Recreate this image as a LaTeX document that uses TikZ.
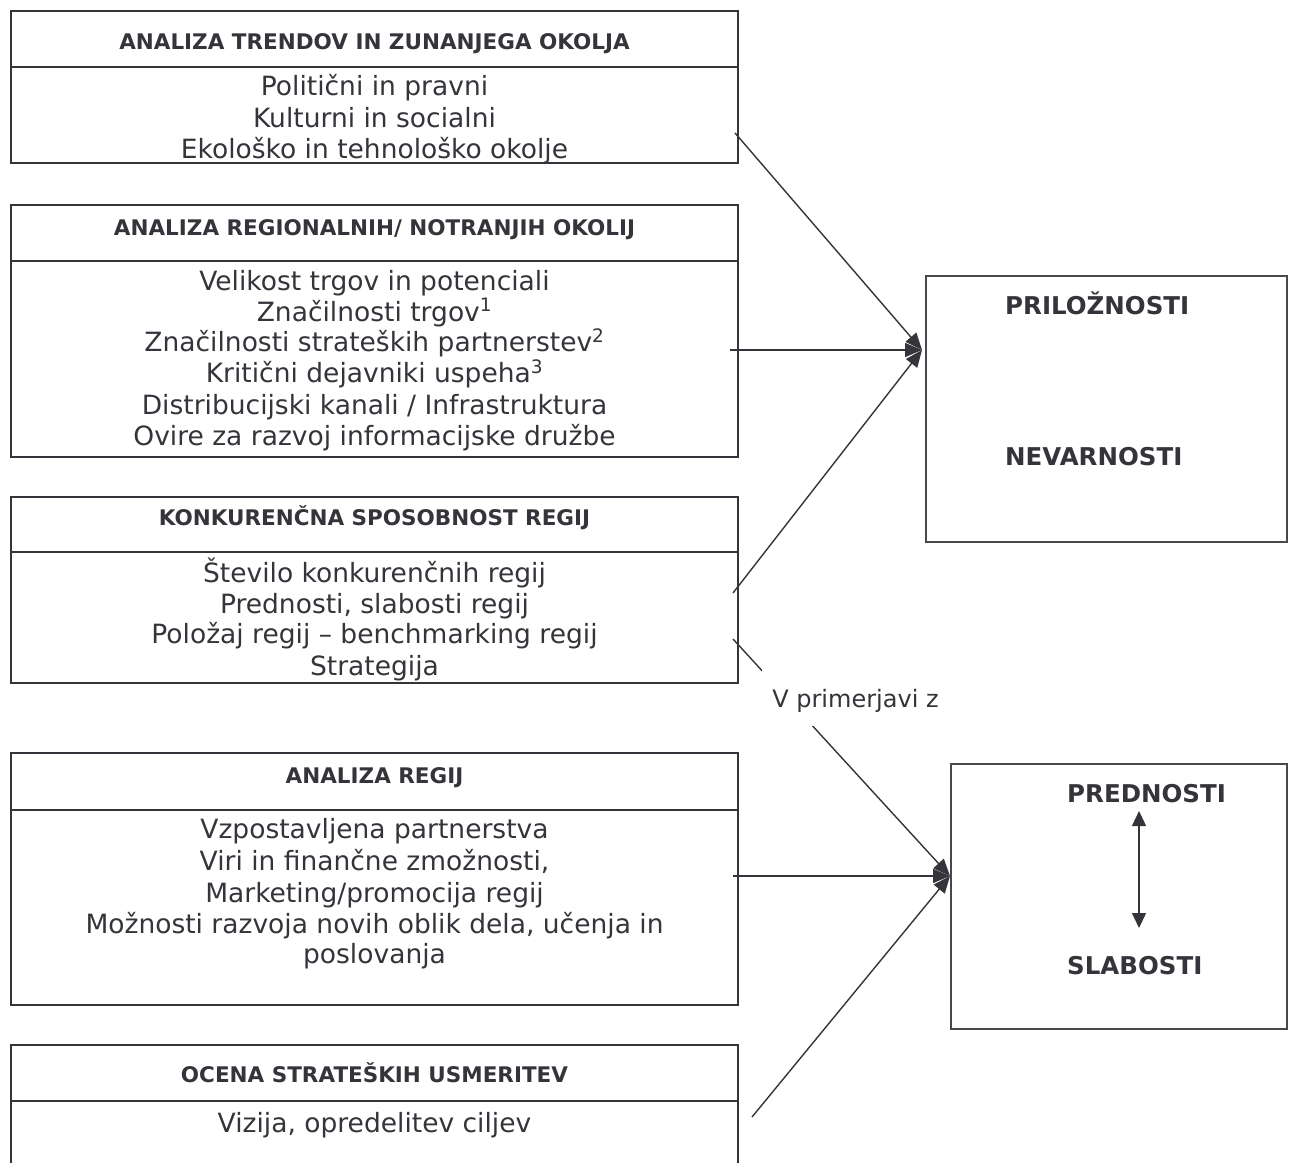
\documentclass[tikz,border=0pt]{standalone}
\usepackage{fontspec}
\setmainfont{DejaVu Sans}
\usetikzlibrary{arrows.meta}
\definecolor{ink}{RGB}{52,52,58}
\begin{document}
\begin{tikzpicture}[x=1pt,y=-1pt,
  box/.style={draw=ink, line width=2pt, inner sep=0pt, minimum width=727pt},
  rbox/.style={draw=ink!90, line width=1.8pt, inner sep=0pt},
  ttl/.style={font=\fontsize{21.5}{26}\selectfont\bfseries, text=ink, anchor=base, inner sep=0pt},
  bd/.style={font=\fontsize{26.5}{32}\selectfont, text=ink, anchor=base, inner sep=0pt},
  big/.style={font=\fontsize{24.5}{30}\selectfont\bfseries, text=ink, anchor=base west, inner sep=0pt},
  sep/.style={draw=ink, line width=2pt},
  con/.style={draw=ink, line width=1.4pt, -{Triangle[length=17pt,width=14pt]}},
  dbl/.style={draw=ink, line width=1.4pt, {Triangle[length=15pt,width=14pt]}-{Triangle[length=15pt,width=14pt]}},
]
\useasboundingbox (0,0) rectangle (1300,1162);

% ---- left boxes ----
\node[box, minimum height=152pt] (b1) at (374.5,87) {};
\draw[sep] (b1.west |- 0,67) -- (b1.east |- 0,67);
\node[ttl] (t1) at (374.5,49) {ANALIZA TRENDOV IN ZUNANJEGA OKOLJA};
\node[bd] (l11) at (374.5,95.5) {Politični in pravni};
\node[bd] (l12) at (374.5,127.3) {Kulturni in socialni};
\node[bd] (l13) at (374.5,158.5) {Ekološko in tehnološko okolje};

\node[box, minimum height=252pt] (b2) at (374.5,331) {};
\draw[sep] (b2.west |- 0,261) -- (b2.east |- 0,261);
\node[ttl] (t2) at (374.5,235) {ANALIZA REGIONALNIH/ NOTRANJIH OKOLIJ};
\node[bd] (l21) at (374.5,290) {Velikost trgov in potenciali};
\node[bd] (l22) at (374.5,321) {Značilnosti trgov\textsuperscript{1}};
\node[bd] (l23) at (374.5,351.5) {Značilnosti strateških partnerstev\textsuperscript{2}};
\node[bd] (l24) at (374.5,382.5) {Kritični dejavniki uspeha\textsuperscript{3}};
\node[bd] (l25) at (374.5,414) {Distribucijski kanali / Infrastruktura};
\node[bd] (l26) at (374.5,445) {Ovire za razvoj informacijske družbe};

\node[box, minimum height=186pt] (b3) at (374.5,590) {};
\draw[sep] (b3.west |- 0,552) -- (b3.east |- 0,552);
\node[ttl] (t3) at (374.5,525) {KONKURENČNA SPOSOBNOST REGIJ};
\node[bd] (l31) at (374.5,582) {Število konkurenčnih regij};
\node[bd] (l32) at (374.5,613) {Prednosti, slabosti regij};
\node[bd] (l33) at (374.5,643.5) {Položaj regij – benchmarking regij};
\node[bd] (l34) at (374.5,675) {Strategija};

\node[box, minimum height=252pt] (b4) at (374.5,879) {};
\draw[sep] (b4.west |- 0,810) -- (b4.east |- 0,810);
\node[ttl] (t4) at (374.5,783) {ANALIZA REGIJ};
\node[bd] (l41) at (374.5,838) {Vzpostavljena partnerstva};
\node[bd] (l42) at (374.5,870) {Viri in finančne zmožnosti,};
\node[bd] (l43) at (374.5,902) {Marketing/promocija regij};
\node[bd] (l44) at (374.5,933) {Možnosti razvoja novih oblik dela, učenja in};
\node[bd] (l45) at (374.5,963) {poslovanja};

\node[box, minimum height=150pt] (b5) at (374.5,1120) {};
\draw[sep] (b5.west |- 0,1101) -- (b5.east |- 0,1101);
\node[ttl] (t5) at (374.5,1082) {OCENA STRATEŠKIH USMERITEV};
\node[bd] (l51) at (374.5,1132) {Vizija, opredelitev ciljev};

% ---- right boxes ----
\node[rbox, minimum width=361pt, minimum height=266pt] (pn) at (1106.5,409) {};
\node[big] (po) at (1005,314) {PRILOŽNOSTI};
\node[big] (ne) at (1005,465) {NEVARNOSTI};

\node[rbox, minimum width=336pt, minimum height=265pt] (ps) at (1119,896.5) {};
\node[big] (pr) at (1067,802) {PREDNOSTI};
\node[big] (sl) at (1067,974) {SLABOSTI};

\coordinate (da) at (1139,811);
\coordinate (db) at (1139,928);
\draw[dbl] (da) -- (db);

% ---- connectors ----
\coordinate (tipA) at (922,350);
\coordinate (sA1) at (735,133);
\coordinate (sA2) at (730,350);
\coordinate (sA3) at (733,593);
\draw[con] (sA1) -- (tipA);
\draw[con] (sA2) -- (tipA);
\draw[con] (sA3) -- (tipA);

\coordinate (tipB) at (950,876);
\coordinate (sB1) at (733,639);
\coordinate (sB2) at (733,876);
\coordinate (sB3) at (752,1117);
\draw[con] (sB1) -- (tipB);
\draw[con] (sB2) -- (tipB);
\draw[con] (sB3) -- (tipB);

\node[fill=white, text=ink, font=\fontsize{24}{29}\selectfont, anchor=base,
      inner xsep=10pt, inner ysep=13pt, text height=25pt, text depth=6pt] (vp) at (855.5,707) {V primerjavi z};
\end{tikzpicture}
\end{document}
